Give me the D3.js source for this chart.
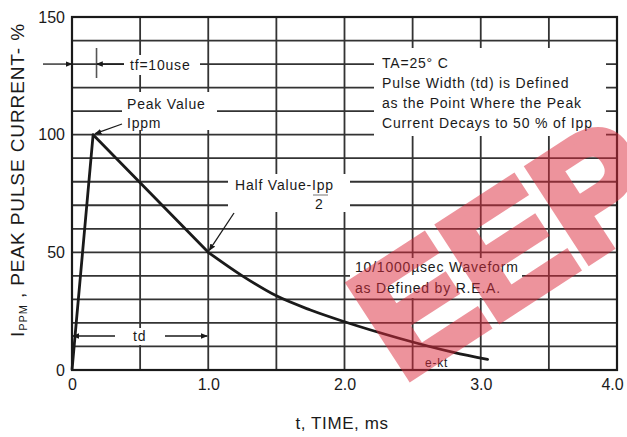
<!DOCTYPE html>
<html>
<head>
<meta charset="utf-8">
<script src="https://cdn.jsdelivr.net/npm/d3@7"></script>
<style>
  body { margin: 0; background: #fff; }
  svg { display: block; font-family: "Liberation Sans", Arial, sans-serif; }
</style>
</head>
<body>
<svg id="chart" width="627" height="437"></svg>
<script>
// pulse waveform
const timeMs = [0, 0.155, 1.0, 1.25, 1.5, 1.75, 2.0, 2.4, 2.8, 3.05];
const currentPct = [0, 100, 50, 40, 31.5, 25.5, 20.5, 13.5, 7.5, 4.5];
const xTicks = [0, 1, 2, 3, 4];
const yTicks = [0, 50, 100, 150];
const xGrid = [0.5, 1, 1.5, 2, 2.5, 3, 3.5];
const yGrid = [10, 20, 30, 40, 50, 60, 70, 80, 90, 100, 110, 120, 130, 140];

const svg = d3.select("#chart");
const x = d3.scaleLinear().domain([0, 4]).range([72, 617]);
const y = d3.scaleLinear().domain([0, 150]).range([370, 17]);
const ink = "#1a1a1a";

// arrow head
svg.append("defs").append("marker")
    .attr("id", "arr")
    .attr("viewBox", "0 0 10 10")
    .attr("refX", 9).attr("refY", 5)
    .attr("markerWidth", 7).attr("markerHeight", 7)
    .attr("markerUnits", "userSpaceOnUse")
    .attr("orient", "auto")
  .append("path")
    .attr("d", "M0,1 L10,5 L0,9 Z")
    .attr("fill", ink);

// grid
svg.append("g").selectAll("line")
    .data(yGrid)
    .enter().append("line")
    .attr("x1", x(0)).attr("x2", x(4))
    .attr("y1", d => y(d)).attr("y2", d => y(d))
    .attr("stroke", "#333").attr("stroke-width", 1.8);
svg.append("g").selectAll("line")
    .data(xGrid)
    .enter().append("line")
    .attr("x1", d => x(d)).attr("x2", d => x(d))
    .attr("y1", y(0)).attr("y2", y(150))
    .attr("stroke", "#333").attr("stroke-width", 1.8);

// frame
svg.append("rect")
    .attr("x", x(0)).attr("y", y(150))
    .attr("width", x(4) - x(0)).attr("height", y(0) - y(150))
    .attr("fill", "none").attr("stroke", ink).attr("stroke-width", 2.2);

// white patches behind the notes, as on the sheet
const boxes = [
    [124, 55, 76, 20],
    [122, 92, 95, 38],
    [228, 174, 122, 38],
    [374, 48, 232, 88],
    [350, 258, 172, 40],
    [420, 357, 36, 11],
    [112, 328, 54, 17]
];
svg.append("g").selectAll("rect")
    .data(boxes)
    .enter().append("rect")
    .attr("x", d => d[0]).attr("y", d => d[1])
    .attr("width", d => d[2]).attr("height", d => d[3])
    .attr("fill", "#fff");

// axes labels
const xAxis = d3.axisBottom(x).tickValues(xTicks).tickSize(0)
    .tickFormat(d => d === 0 ? "0" : d3.format(".1f")(d));
const gx = svg.append("g")
    .attr("transform", "translate(0," + y(0) + ")")
    .call(xAxis);
gx.select(".domain").remove();
gx.selectAll("text")
    .attr("y", 9).attr("dy", "0.71em")
    .attr("dx", d => d === 4 ? -5 : 0)
    .attr("font-size", 16).attr("font-family", "Liberation Sans, Arial, sans-serif")
    .attr("fill", ink);

const yAxis = d3.axisLeft(y).tickValues(yTicks).tickSize(0);
const gy = svg.append("g")
    .attr("transform", "translate(" + (x(0) - 7) + ",0)")
    .call(yAxis);
gy.select(".domain").remove();
gy.selectAll("text")
    .attr("x", 0)
    .attr("font-size", 16).attr("font-family", "Liberation Sans, Arial, sans-serif")
    .attr("fill", ink);

svg.append("text")
    .attr("x", 342).attr("y", 429)
    .attr("text-anchor", "middle")
    .attr("font-size", 17).attr("letter-spacing", 0.6)
    .attr("fill", ink)
    .text("t, TIME, ms");

const yt = svg.append("text")
    .attr("transform", "translate(24,180) rotate(-90)")
    .attr("text-anchor", "middle")
    .attr("font-size", 19).attr("letter-spacing", 0.9)
    .attr("fill", ink);
yt.append("tspan").text("I");
yt.append("tspan").attr("font-size", 11).attr("dy", 3).text("PPM");
yt.append("tspan").attr("dy", -3).text(" , PEAK PULSE CURRENT- %");

// waveform
const pts = timeMs.map((t, i) => [t, currentPct[i]]);
const lineLin = d3.line().x(d => x(d[0])).y(d => y(d[1]));
const lineCurve = d3.line().x(d => x(d[0])).y(d => y(d[1])).curve(d3.curveMonotoneX);
svg.append("path")
    .attr("d", lineLin(pts.slice(0, 3)))
    .attr("fill", "none").attr("stroke", ink).attr("stroke-width", 2.8)
    .attr("stroke-linejoin", "round");
svg.append("path")
    .attr("d", lineCurve(pts.slice(2)))
    .attr("fill", "none").attr("stroke", ink).attr("stroke-width", 2.8)
    .attr("stroke-linecap", "round");

// notes
function note(tx, ty, str, size) {
    return svg.append("text")
        .attr("x", tx).attr("y", ty)
        .attr("font-size", size || 14).attr("letter-spacing", 0.8)
        .attr("fill", ink)
        .text(str);
}
function arrow(x1, y1, x2, y2) {
    svg.append("line")
        .attr("x1", x1).attr("y1", y1).attr("x2", x2).attr("y2", y2)
        .attr("stroke", ink).attr("stroke-width", 1.3)
        .attr("marker-end", "url(#arr)");
}

// tf
arrow(43, y(130), x(0), y(130));
svg.append("line")
    .attr("x1", x(0.18)).attr("x2", x(0.18))
    .attr("y1", 48).attr("y2", 78)
    .attr("stroke", "#555").attr("stroke-width", 1.6);
arrow(124, y(130), x(0.18), y(130));
note(130, 70, "tf=10use");

// peak
note(127, 109, "Peak Value");
note(127, 128, "Ippm");
arrow(122, 124, x(0.155) + 2, y(100) - 1);

// half value
note(235, 190, "Half Value-Ipp");
svg.append("line")
    .attr("x1", 313).attr("x2", 328).attr("y1", 195).attr("y2", 195)
    .attr("stroke", "#777").attr("stroke-width", 1);
note(315, 209, "2");
arrow(234, 213, x(1) + 1, y(50) - 2);

// conditions
note(382, 68, "TA=25° C");
note(382, 88, "Pulse Width (td) is Defined");
note(382, 108, "as the Point Where the Peak");
note(382, 128, "Current Decays to 50 % of Ipp");

note(355, 272, "10/1000µsec Waveform");
note(355, 293, "as Defined by R.E.A.");
note(425, 367, "e-kt", 12);

// td
arrow(115, 336, x(0) + 1, 336);
arrow(165, 336, x(1) - 1, 336);
note(133, 341, "td");

// watermark
svg.append("g")
    .attr("opacity", 0.5)
  .append("text")
    .attr("transform", "translate(402,382) rotate(-33)")
    .attr("font-size", 160).attr("font-weight", "bold")
    .attr("fill", "#dc2a3c").attr("stroke", "#dc2a3c").attr("stroke-width", 9)
    .attr("stroke-linejoin", "miter")
    .text("EEP");
</script>
</body>
</html>
